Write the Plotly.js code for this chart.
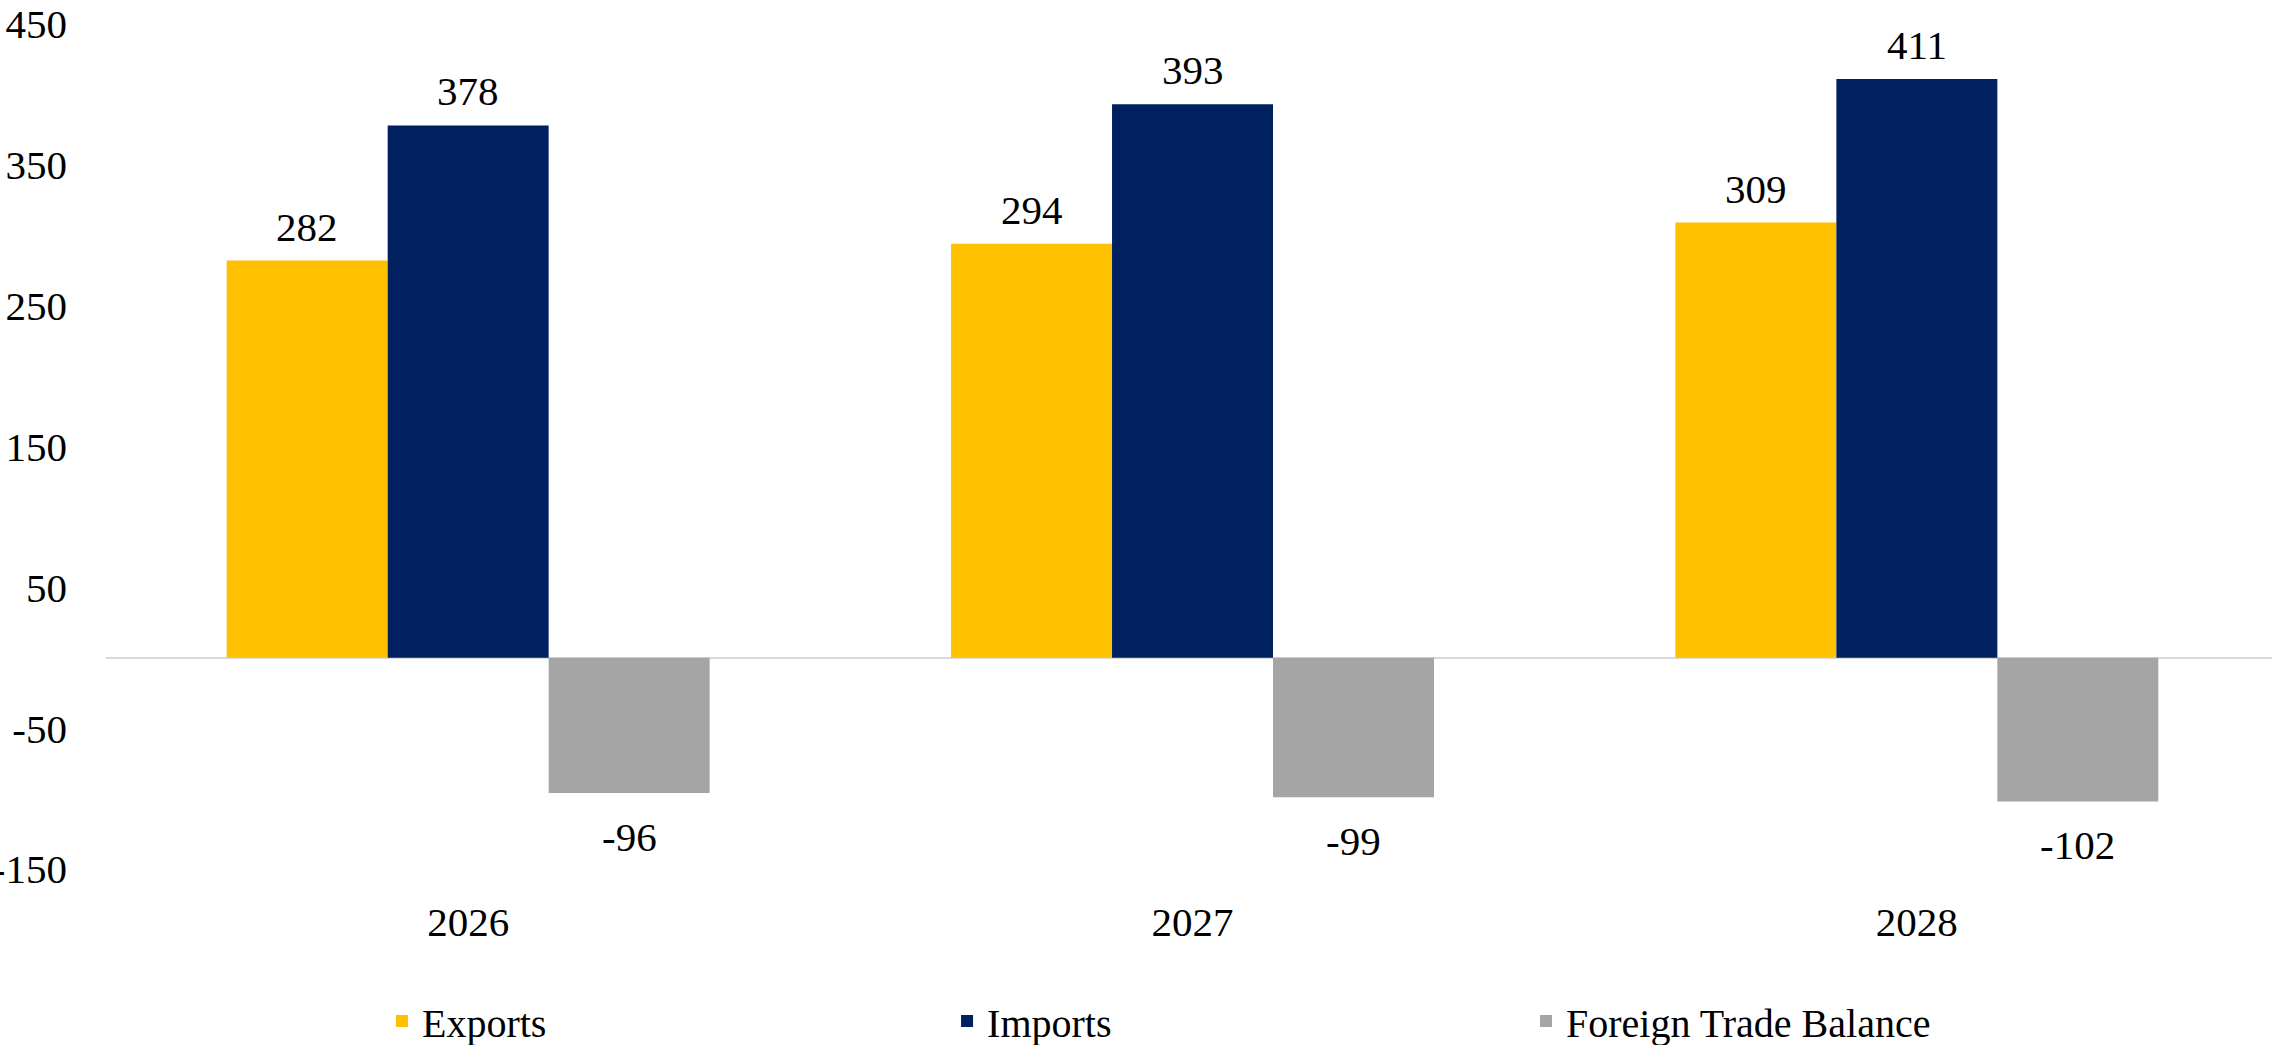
<!DOCTYPE html>
<html>
<head>
<meta charset="utf-8">
<script src="https://cdn.plot.ly/plotly-3.0.1.min.js"></script>
<style>
  html, body { margin: 0; padding: 0; background: #ffffff; overflow: hidden; }
  #chart { width: 2272px; height: 1045px; }
</style>
</head>
<body>
<div id="chart"></div>
<script>
const years = ['2026', '2027', '2028'];
const exportsVals = [282, 294, 309];
const importsVals = [378, 393, 411];
const balanceVals = [-96, -99, -102];
const seriesNames = ['Exports', 'Imports', 'Foreign Trade Balance'];
const seriesColors = ['#FFC000', '#002060', '#A5A5A5'];
const yTicks = [-150, -50, 50, 150, 250, 350, 450];

const FONT = 'Liberation Serif, Times New Roman, serif';
const labelFont = { family: FONT, size: 41, color: '#000000' };
const BARGAP = 0.3333;
const allSeries = [exportsVals, importsVals, balanceVals];
const legendIds = ['legend', 'legend2', 'legend3'];

const data = allSeries.map((vals, i) => ({
  type: 'bar',
  name: seriesNames[i],
  x: years,
  y: vals,
  marker: { color: seriesColors[i], line: { width: 0 } },
  legend: legendIds[i],
  hoverinfo: 'skip'
}));

// data labels placed at each bar's value, offset within the group by the bar slot
const slot = (1 - BARGAP) / allSeries.length;
const annotations = [];
allSeries.forEach((vals, i) => {
  vals.forEach((v, j) => {
    annotations.push({
      xref: 'x', yref: 'y',
      x: j + (i - (allSeries.length - 1) / 2) * slot,
      y: v,
      text: String(v),
      showarrow: false,
      xanchor: 'center',
      yanchor: v >= 0 ? 'bottom' : 'top',
      yshift: v >= 0 ? 9 : -19,
      font: labelFont
    });
  });
});

const legendBase = {
  orientation: 'h',
  xanchor: 'left',
  yanchor: 'middle',
  y: -0.18,
  font: { family: FONT, size: 40, color: '#000000' },
  bgcolor: 'rgba(0,0,0,0)',
  borderwidth: 0
};

const layout = {
  width: 2272,
  height: 1045,
  margin: { l: 106, r: 0, t: 23.5, b: 175.5, pad: 0, autoexpand: false },
  paper_bgcolor: '#ffffff',
  plot_bgcolor: '#ffffff',
  barmode: 'group',
  bargap: BARGAP,
  bargroupgap: 0,
  showlegend: true,
  font: { family: FONT, size: 41, color: '#000000' },
  annotations: annotations,
  xaxis: {
    type: 'category',
    range: [-0.5, 2.4903],
    showgrid: false,
    showline: false,
    zeroline: false,
    ticks: '',
    tickfont: labelFont,
    ticklabelstandoff: 25,
    automargin: false,
    fixedrange: true
  },
  yaxis: {
    range: [-150, 450],
    tickmode: 'array',
    tickvals: yTicks,
    ticktext: yTicks.map(String),
    showgrid: false,
    showline: false,
    zeroline: true,
    zerolinecolor: '#d9d9d9',
    zerolinewidth: 2.5,
    ticks: '',
    tickfont: labelFont,
    ticklabelstandoff: 38,
    automargin: false,
    fixedrange: true
  },
  legend: Object.assign({}, legendBase, { x: 0.1274 }),
  legend2: Object.assign({}, legendBase, { x: 0.3883 }),
  legend3: Object.assign({}, legendBase, { x: 0.6556 })
};

Plotly.newPlot('chart', data, layout, { staticPlot: true, displayModeBar: false });
</script>
</body>
</html>
